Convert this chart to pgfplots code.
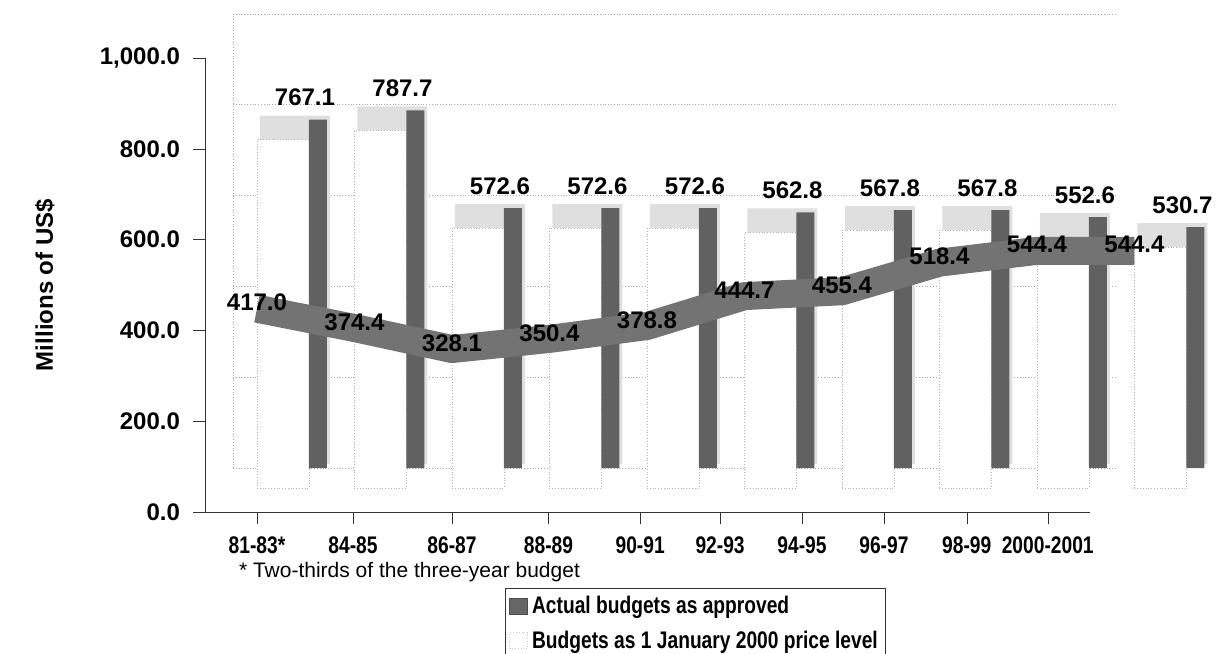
\documentclass[border=0pt]{standalone}
\usepackage{pgfplots}
\pgfplotsset{compat=1.18}
\usepackage{pgfplotstable}
\usepackage{fontspec}
\setmainfont{Liberation Sans}
\newfontfamily\narrowfont[FakeStretch=0.8]{Liberation Sans}

\pgfplotstableread{
x budget actual
0 767.1 417.0
1 787.7 374.4
2 572.6 328.1
3 572.6 350.4
4 572.6 378.8
5 562.8 444.7
6 567.8 455.4
7 567.8 518.4
8 552.6 544.4
9 530.7 544.4
}\datatable

\begin{document}
\begin{tikzpicture}
\useasboundingbox (-102.5pt,-70.5pt) rectangle (506.5pt,256pt);
\begin{axis}[
  x=48.75pt, y=0.227pt,
  xmin=-0.533, xmax=8.54, ymin=0, ymax=1000,
  axis x line=bottom, axis y line=left,
  axis line style={-, black!80},
  clip=false,
  tick align=outside, major tick length=6pt,
  tick style={black!80},
  ytick={0,200,400,600,800,1000},
  yticklabels={0.0,200.0,400.0,600.0,800.0,{1,000.0}},
  yticklabel style={font=\bfseries\fontsize{12}{14}\selectfont, xshift=-3pt},
  xtick={0,0.985,2,2.99,3.93,4.75,5.59,6.43,7.28,8.11},
  xticklabels={81-83*,84-85,86-87,88-89,90-91,92-93,94-95,96-97,98-99,2000-2001},
  xticklabel style={font=\narrowfont\bfseries\fontsize{12}{14}\selectfont, yshift=-3pt},
  ymajorgrids,
  major grid style={densely dotted, gray!70, xshift=14pt, yshift=22pt},
  extra x ticks={-0.533}, extra x tick labels={},
  extra x tick style={xmajorgrids, major tick length=0pt},
  ylabel={Millions of US\$},
  ylabel style={at={(axis description cs:-0.181,0.5)}, anchor=center, font=\bfseries\fontsize{12}{14}\selectfont},
  /pgf/number format/assume math mode=true,
  /pgf/number format/fixed, /pgf/number format/fixed zerofill,
  /pgf/number format/precision=1,
  legend style={at={(axis description cs:0.339,-0.167)}, anchor=north west,
    draw=black!80, font=\narrowfont\bfseries\fontsize{12}{14}\selectfont,
    row sep=3pt, inner sep=2pt},
  legend cell align=left,
]
% top faces
\addplot[ybar, bar width=35pt, bar shift=19pt, fill=gray!25, draw=none, yshift=24pt, forget plot]
  table[x=x,y=budget]{\datatable};
% front faces
\addplot[ybar, bar width=26pt, bar shift=13pt, fill=white, draw=gray!60, densely dotted, yshift=12pt, forget plot]
  table[x=x,y=budget]{\datatable};
% dark side faces
\addplot[ybar, bar width=9pt, bar shift=30.5pt, fill=black!62, draw=none, yshift=22pt, forget plot]
  table[x=x,y=budget]{\datatable};
% ribbon for actual budgets
\addplot[black!55, line width=14pt, line join=bevel, mark=none, yshift=7pt, forget plot]
  table[x=x,y=actual]{\datatable};
% labels for actual
\addplot[draw=none, mark=none, forget plot, nodes near coords,
  every node near coord/.style={anchor=center, yshift=10pt, black, font=\bfseries\fontsize{12}{14}\selectfont}]
  table[x=x,y=actual]{\datatable};
% labels for budgets
\addplot[draw=none, mark=none, forget plot, nodes near coords,
  every node near coord/.style={anchor=center, xshift=24pt, yshift=33pt, black, font=\bfseries\fontsize{12}{14}\selectfont}]
  table[x=x,y=budget]{\datatable};

\addlegendimage{legend image code/.code={\draw[fill=black!60, draw=black!70] (0pt,-4pt) rectangle (9pt,4pt);}}
\addlegendentry{Actual budgets as approved}
\addlegendimage{legend image code/.code={\draw[fill=white, draw=gray!40, densely dotted] (0pt,-4pt) rectangle (9pt,4pt);}}
\addlegendentry{Budgets as 1 January 2000 price level\hspace{18pt}}

\node[anchor=west, font=\fontsize{10.5}{12}\selectfont] at (axis description cs:0.0305,-0.132) {* Two-thirds of the three-year budget};
\end{axis}
\end{tikzpicture}
\end{document}
